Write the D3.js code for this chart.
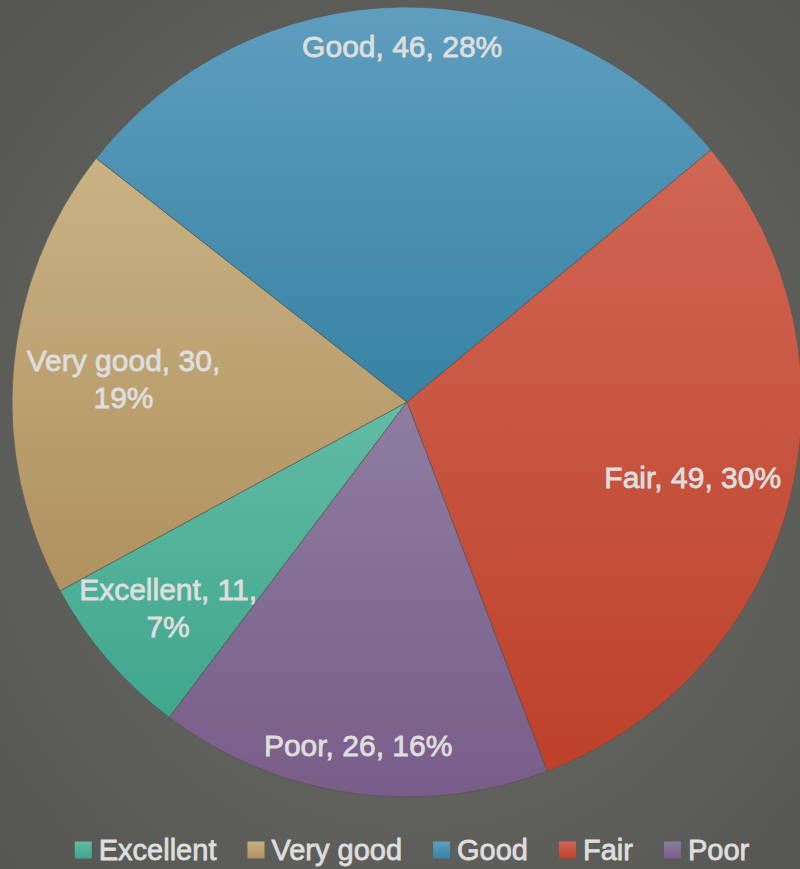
<!DOCTYPE html>
<html>
<head>
<meta charset="utf-8">
<script src="https://cdn.jsdelivr.net/npm/d3@7"></script>
<style>
  html, body { margin: 0; padding: 0; background: #5e5e59; }
  svg { display: block; }
</style>
</head>
<body>
<svg id="chart" width="800" height="869"></svg>
<script>
// ---- data ----
const categories = ["Excellent", "Very good", "Good", "Fair", "Poor"];
const values = [11, 30, 46, 49, 26];
const colorsTop = ["#62bba5", "#c9b283", "#5f9dbd", "#d06654", "#8f7da1"];
const colorsBottom = ["#3fa68c", "#b09160", "#3783a4", "#bd412a", "#785d88"];

// ---- layout ----
const W = 800, H = 869;
const cx = 407, cy = 402, R = 395;
const firstSliceAngle = 217; // degrees, clockwise from 12 o'clock
const fontFamily = "'Liberation Sans', Arial, sans-serif";
const fontSize = 30;
const legendFontSize = 29;
const textColor = "#dedede";
const maxLabelWidth = 215;
const edgePad = 10;

const svg = d3.select("#chart");
const defs = svg.append("defs");

// background
const bg = defs.append("radialGradient").attr("id", "bg")
  .attr("cx", "52%").attr("cy", "52%").attr("r", "72%");
bg.append("stop").attr("offset", "0%").attr("stop-color", "#6e6e69");
bg.append("stop").attr("offset", "100%").attr("stop-color", "#555552");
svg.append("rect").attr("width", W).attr("height", H).attr("fill", "url(#bg)");

// slice gradients
categories.forEach((c, i) => {
  const g = defs.append("linearGradient").attr("id", "g" + i)
    .attr("x1", 0).attr("y1", 0).attr("x2", 0).attr("y2", 1);
  g.append("stop").attr("offset", "0%").attr("stop-color", colorsTop[i]);
  g.append("stop").attr("offset", "100%").attr("stop-color", colorsBottom[i]);
});

const total = d3.sum(values);
const a0 = firstSliceAngle * Math.PI / 180;
const pie = d3.pie().sort(null).value(d => d.value)
  .startAngle(a0).endAngle(a0 + 2 * Math.PI);
const data = categories.map((c, i) => ({ name: c, value: values[i], idx: i }));
const arcs = pie(data);
const arc = d3.arc().innerRadius(0).outerRadius(R);

const gPie = svg.append("g").attr("transform", `translate(${cx},${cy})`);
gPie.selectAll("path.slice").data(arcs).join("path")
  .attr("class", "slice")
  .attr("d", arc)
  .attr("fill", d => `url(#g${d.data.idx})`)
  .attr("stroke", "rgba(80,80,80,0.55)")
  .attr("stroke-width", 1);

// ---- labels ----
const measureText = (() => {
  const t = svg.append("text").attr("font-family", fontFamily).attr("font-size", fontSize)
    .attr("visibility", "hidden");
  return (s, fs) => { t.attr("font-size", fs || fontSize).text(s); return t.node().getComputedTextLength(); };
})();

const lineH = 37;
const halfBox = 14;
const gLab = svg.append("g").attr("transform", `translate(${cx},${cy})`);
arcs.forEach(d => {
  const pct = Math.round(d.data.value / total * 100) + "%";
  const full = `${d.data.name}, ${d.data.value}, ${pct}`;
  let lines;
  if (measureText(full) > maxLabelWidth) lines = [`${d.data.name}, ${d.data.value},`, pct];
  else lines = [full];
  const widths = lines.map(l => measureText(l));
  const n = lines.length;
  const offs = lines.map((l, k) => (k - (n - 1) / 2) * lineH);
  const mid = (d.startAngle + d.endAngle) / 2;
  const sx = Math.sin(mid), sy = -Math.cos(mid);
  const Rlim = R - edgePad;
  const fits = dist => {
    const px = sx * dist, py = sy * dist;
    for (let k = 0; k < n; k++) {
      const hw = widths[k] / 2;
      for (const ddx of [-hw, hw]) for (const ddy of [-halfBox, halfBox]) {
        const x = px + ddx, y = py + offs[k] + ddy;
        if (Math.hypot(x, y) > Rlim) return false;
      }
    }
    return true;
  };
  let dist = R * 0.5;
  while (dist < R && fits(dist + 1)) dist += 1;
  const px = sx * dist, py = sy * dist;
  const t = gLab.append("text")
    .attr("font-family", fontFamily).attr("font-size", fontSize)
    .attr("fill", textColor).attr("text-anchor", "middle")
    .attr("stroke", textColor).attr("stroke-width", 0.8);
  lines.forEach((l, k) => {
    t.append("tspan").attr("x", px).attr("y", py + offs[k]).attr("dy", "0.36em").text(l);
  });
});

// ---- legend ----
const sq = 17, sqGap = 7, itemGap = 31, legendY = 850, legendCenter = 412;
const items = categories.map((c, i) => ({ c, i, w: sq + sqGap + measureText(c, legendFontSize) }));
const totalW = d3.sum(items, d => d.w) + itemGap * (items.length - 1);
let lx = legendCenter - totalW / 2;
const gLeg = svg.append("g");
items.forEach(it => {
  gLeg.append("rect").attr("x", lx).attr("y", legendY - sq / 2).attr("width", sq).attr("height", sq)
    .attr("fill", `url(#g${it.i})`);
  gLeg.append("text").attr("x", lx + sq + sqGap).attr("y", legendY).attr("dy", "0.36em")
    .attr("font-family", fontFamily).attr("font-size", legendFontSize)
    .attr("fill", textColor).attr("stroke", textColor).attr("stroke-width", 0.8)
    .text(it.c);
  lx += it.w + itemGap;
});
</script>
</body>
</html>
